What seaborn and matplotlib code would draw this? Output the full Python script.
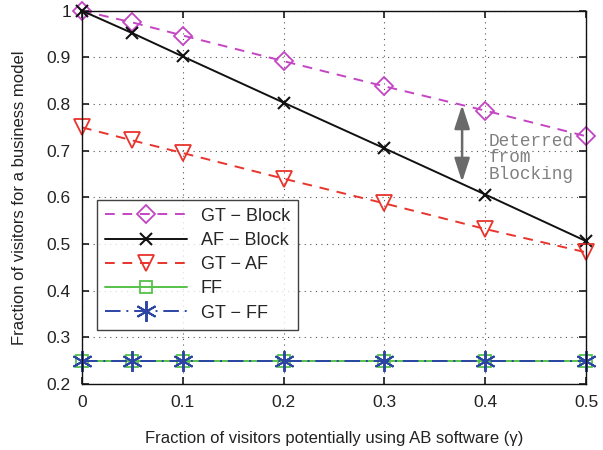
import matplotlib
matplotlib.use("Agg")
import matplotlib.pyplot as plt
import seaborn as sns
import pandas as pd

gamma = [0, 0.05, 0.1, 0.2, 0.3, 0.4, 0.5]
gt_block = [1.0, 0.975, 0.947, 0.892, 0.838, 0.786, 0.731]
af_block = [1.0, 0.952, 0.902, 0.803, 0.705, 0.606, 0.506]
gt_af = [0.75, 0.722, 0.695, 0.640, 0.587, 0.532, 0.482]
ff = [0.25, 0.25, 0.25, 0.25, 0.25, 0.25, 0.25]
gt_ff = [0.25, 0.25, 0.25, 0.25, 0.25, 0.25, 0.25]
labels = ["GT \u2212 Block", "AF \u2212 Block", "GT \u2212 AF", "FF", "GT \u2212 FF"]
xticks = [0, 0.1, 0.2, 0.3, 0.4, 0.5]
yticks = [0.2, 0.3, 0.4, 0.5, 0.6, 0.7, 0.8, 0.9, 1.0]

sns.set_theme(style="ticks")
plt.rcParams['font.family'] = ['Liberation Sans', 'DejaVu Sans']

fig = plt.figure(figsize=(6.03, 4.5), dpi=100)
ax = fig.add_axes([0.136, 0.147, 0.836, 0.829])

series = [gt_block, af_block, gt_af, ff, gt_ff]
styles = [
    dict(color="#C445C4", ls=(0, (5, 4)), marker="D", ms=9, mfc="none", mew=1.3),
    dict(color="#111111", ls="-", marker="x", ms=9, mfc="none", mew=1.5),
    dict(color="#E8342C", ls=(0, (5, 4)), marker="v", ms=11, mfc="none", mew=1.3),
    dict(color="#55C24A", ls="-", marker="s", ms=9, mfc="none", mew=1.3),
    dict(color="#2C45A5", ls=(0, (8, 3, 1, 3)), marker=(6, 2, 0), ms=15, mfc="none", mew=1.4),
]
for vals, lab, st in zip(series, labels, styles):
    df = pd.DataFrame({"x": gamma, "y": vals})
    sns.lineplot(data=df, x="x", y="y", ax=ax, label=lab, color=st["color"],
                 linestyle=st["ls"], marker=st["marker"], markersize=st["ms"],
                 markerfacecolor=st["mfc"], markeredgecolor=st["color"],
                 markeredgewidth=st["mew"], linewidth=1.4, clip_on=False)

ax.set_xlim(0, 0.5)
ax.set_ylim(0.2, 1.0)
ax.set_xticks(xticks)
ax.set_xticklabels(["0", "0.1", "0.2", "0.3", "0.4", "0.5"])
ax.set_yticks(yticks)
ax.set_yticklabels(["0.2", "0.3", "0.4", "0.5", "0.6", "0.7", "0.8", "0.9", "1"])
ax.grid(True, linestyle=(0, (1, 4)), color="#555555", linewidth=0.8)
ax.tick_params(direction="in", top=True, right=True, length=5, labelsize=12.5,
               colors="#222222", pad=8)
for s in ax.spines.values():
    s.set_color("#111111")
    s.set_linewidth(1.0)

ax.set_xlabel("Fraction of visitors potentially using AB software (\u03b3)", fontsize=12, color="#222222", labelpad=15)
ax.set_ylabel("Fraction of visitors for a business model", fontsize=12, color="#222222", labelpad=14)

ax.annotate("", xy=(0.377, 0.633), xytext=(0.377, 0.798),
            arrowprops=dict(arrowstyle="<|-|>,head_length=0.8,head_width=0.26",
                            color="#6a6a6a", lw=1.8, mutation_scale=18, shrinkA=0, shrinkB=0))
ax.text(0.403, 0.685, "Deterred\nfrom\nBlocking", fontsize=12.8, color="#808080",
        family="Liberation Mono", va="center", ha="left", linespacing=0.95)

leg = ax.legend(loc="lower left", bbox_to_anchor=(0.03, 0.145), fontsize=13,
                frameon=True, fancybox=False, handlelength=4.5, borderpad=0.45,
                labelspacing=0.4, handletextpad=0.8, borderaxespad=0)
leg.get_frame().set_edgecolor("#111111")
leg.get_frame().set_linewidth(1.0)

fig.savefig("out.png", dpi=100)
